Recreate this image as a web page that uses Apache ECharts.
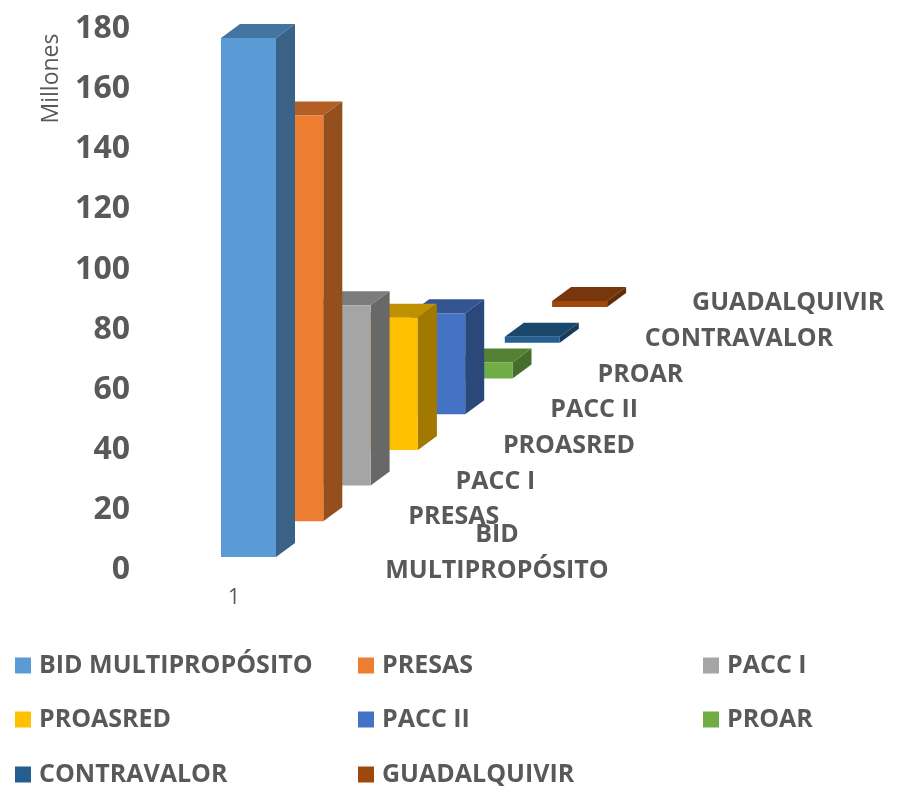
<!DOCTYPE html>
<html><head><meta charset="utf-8">
<style>html,body{margin:0;padding:0;background:#fff}#c{width:897px;height:786px}</style>
<script src="https://cdn.jsdelivr.net/npm/echarts@6/dist/echarts.min.js"></script>
</head><body><div id="c"></div>
<script>
const categories = ['1'];
const seriesNames = ['BID MULTIPROPÓSITO','PRESAS','PACC I','PROASRED','PACC II','PROAR','CONTRAVALOR','GUADALQUIVIR'];
const seriesValues = [172.7,135,60,44,33.6,5.3,2,2];
const seriesColors = ['#5B9BD5','#ED7D31','#A5A5A5','#FFC000','#4472C4','#70AD47','#255E91','#9E480E'];
const tickStep = 20, axisMax = 180;

const FONT = '"Open Sans","Noto Sans",sans-serif';
const INK = '#595959';
const STEP_X = 47.3, STEP_Y = 35.7, DEPTH_X = 19, DEPTH_Y = 14, BAR_W = 55, FLOOR = 13, START_X = -13;

function shade(hex, f){
  const n = parseInt(hex.slice(1),16);
  const c = s => Math.round(((n>>s)&255)*f);
  return `rgb(${c(16)},${c(8)},${c(0)})`;
}
function renderBar(i){
  return function(params, api){
    const base = api.coord([api.value(0),0]);
    const top = api.coord([api.value(0),api.value(1)]);
    const h = base[1]-top[1];
    const l = base[0]+START_X+STEP_X*i, r = l+BAR_W;
    const b = base[1]-FLOOR-STEP_Y*i, t = b-h;
    const col = seriesColors[i];
    const poly = (pts,fill)=>({type:'polygon',shape:{points:pts},style:{fill}});
    const name = seriesNames[i];
    const wrapped = name.indexOf(' ')>0 && name.length>12;
    const label = {type:'text',style:{
      text: wrapped ? name.replace(' ','\n') : name,
      x: wrapped ? r+221 : r+85, y: b-4,
      align: wrapped ? 'center':'left', verticalAlign:'middle',
      fill:INK, font:`bold 25px ${FONT}`, lineHeight:36}};
    return {type:'group',children:[
      poly([[l,t],[r,t],[r+DEPTH_X,t-DEPTH_Y],[l+DEPTH_X,t-DEPTH_Y]],shade(col,0.75)),
      poly([[r,t],[r+DEPTH_X,t-DEPTH_Y],[r+DEPTH_X,b-DEPTH_Y],[r,b]],shade(col,0.63)),
      poly([[l,t],[r,t],[r,b],[l,b]],col),
      label
    ]};
  };
}
const legendX = [15,358,703], legendY = [653,707,762];
const chart = echarts.init(document.getElementById('c'));
chart.setOption({
  animation:false,
  backgroundColor:'#fff',
  grid:{left:136,right:565,top:29,bottom:216},
  xAxis:{type:'category',data:categories,axisLine:{show:false},axisTick:{show:false},
    axisLabel:{color:INK,fontFamily:FONT,fontSize:21,margin:18}},
  yAxis:{type:'value',min:0,max:axisMax,interval:tickStep,
    name:'Millones',nameLocation:'middle',nameRotate:90,nameGap:73,
    nameTextStyle:{color:INK,fontFamily:FONT,fontSize:23,padding:[0,0,0,442]},
    axisLine:{show:false},axisTick:{show:false},splitLine:{show:false},
    axisLabel:{color:INK,fontFamily:FONT,fontWeight:'bold',fontSize:32,margin:6}},
  legend:seriesNames.map((n,i)=>({
    data:[n],left:legendX[i%3],top:legendY[Math.floor(i/3)],padding:0,
    itemWidth:16,itemHeight:16,icon:'rect',
    selectedMode:false,
    textStyle:{color:INK,fontFamily:FONT,fontWeight:'bold',fontSize:25,padding:[0,0,0,3]}
  })),
  series:seriesNames.map((n,i)=>({
    type:'custom',name:n,z:20-i,coordinateSystem:'cartesian2d',
    itemStyle:{color:seriesColors[i]},
    encode:{x:0,y:1},
    data:[[0,seriesValues[i]]],
    renderItem:renderBar(i)
  }))
});
</script></body></html>
